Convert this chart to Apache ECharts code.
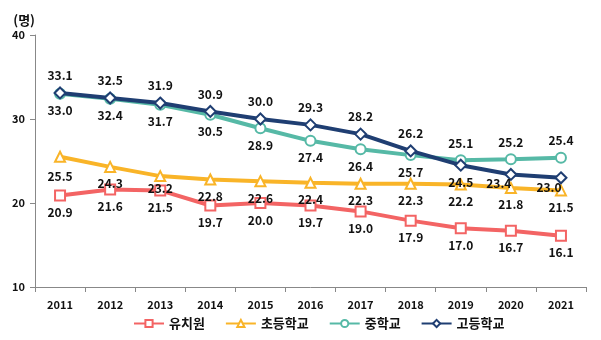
<!DOCTYPE html>
<html><head><meta charset="utf-8">
<script src="https://cdn.jsdelivr.net/npm/echarts@6/dist/echarts.min.js"></script>
<style>html,body{margin:0;padding:0;background:#fff}#c{width:601px;height:340px}</style>
</head><body><div id="c"></div>
<script>
var years = ['2011','2012','2013','2014','2015','2016','2017','2018','2019','2020','2021'];
var kinder = [20.9,21.6,21.5,19.7,20.0,19.7,19.0,17.9,17.0,16.7,16.1];
var elem = [25.5,24.3,23.2,22.8,22.6,22.4,22.3,22.3,22.2,21.8,21.5];
var middle = [33.0,32.4,31.7,30.5,28.9,27.4,26.4,25.7,25.1,25.2,25.4];
var high = [33.1,32.5,31.9,30.9,30.0,29.3,28.2,26.2,24.5,23.4,23.0];
var yTicks = [10,20,30,40];
var names = ['유치원','초등학교','중학교','고등학교'];

var FONT = '"Noto Sans CJK KR", "Noto Sans", sans-serif';
var lblStyle = {fontFamily: FONT, fontSize: 12, fontWeight: 'bold', color: '#111'};

function mk(vals, posFn, offFn) {
  return vals.map(function(v, i){
    var lbl = Object.assign({show: true, position: posFn(i), distance: 5,
      formatter: function(o){return o.value.toFixed(1);}}, lblStyle);
    var off = offFn ? offFn(i) : null;
    if (off) lbl.offset = off;
    return {value: v, label: lbl};
  });
}

var chart = echarts.init(document.getElementById('c'), null, {renderer: 'canvas'});
function series(name, vals, color, symbol, size, posFn, offFn, z) {
  return {
    name: name, type: 'line', data: mk(vals, posFn, offFn), z: z,
    symbol: symbol, symbolSize: size, showAllSymbol: true,
    lineStyle: {color: color, width: 4},
    itemStyle: {color: '#fff', borderColor: color, borderWidth: 2},
    emphasis: {disabled: true}
  };
}
chart.setOption({
  animation: false,
  grid: {left: 35, right: 15, top: 35, bottom: 53},
  legend: {
    bottom: 5, left: 128, itemWidth: 30, itemHeight: 9, itemGap: 20,
    textStyle: {fontFamily: FONT, fontSize: 13, color: '#111', fontWeight: 'bold'},
    data: names
  },
  xAxis: {
    type: 'category', data: years, boundaryGap: true,
    axisLine: {lineStyle: {color: '#888', width: 1}},
    axisTick: {show: true, inside: false, length: 5, lineStyle: {color: '#888'}},
    axisLabel: {fontFamily: FONT, fontSize: 11, fontWeight: 'bold', color: '#111', margin: 12}
  },
  yAxis: {
    type: 'value', min: yTicks[0], max: yTicks[yTicks.length-1], interval: 10,
    name: '(명)', nameGap: 8, nameTextStyle: {fontFamily: FONT, fontSize: 13, fontWeight: 'bold', color: '#111', align: 'right'},
    axisLine: {show: true, lineStyle: {color: '#888', width: 1}},
    axisTick: {show: true, inside: false, length: 5, lineStyle: {color: '#888'}},
    splitLine: {show: false},
    axisLabel: {fontFamily: FONT, fontSize: 11, fontWeight: 'bold', color: '#111', margin: 10}
  },
  series: [
    series(names[0], kinder, '#F36464', 'rect', 10, function(i){return 'bottom';}, null, 2),
    series(names[1], elem, '#F9B428', 'triangle', 10, function(i){return 'bottom';},
      function(i){ if (i === 0) return [0, 3]; if (i === 2) return [0, -5]; return null; }, 3),
    series(names[2], middle, '#56B9A6', 'circle', 10, function(i){return i >= 8 ? 'top' : 'bottom';}, null, 4),
    series(names[3], high, '#1F3E72', 'diamond', 11, function(i){return i >= 8 ? 'bottom' : 'top';},
      function(i){ if (i === 9) return [-12, -9]; if (i === 10) return [-12, -8]; return null; }, 5)
  ]
});
</script></body></html>
